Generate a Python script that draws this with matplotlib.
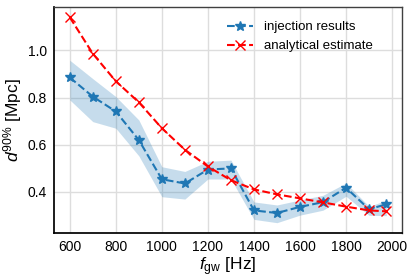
import matplotlib
matplotlib.use("Agg")
import matplotlib.pyplot as plt

freqs = [600, 700, 800, 900, 1000, 1100, 1200, 1300, 1400, 1500, 1600, 1700, 1800, 1900, 1975]
injection = [0.885, 0.804, 0.741, 0.62, 0.454, 0.436, 0.495, 0.50, 0.322, 0.311, 0.337, 0.357, 0.418, 0.327, 0.348]
inj_upper = [0.958, 0.88, 0.804, 0.705, 0.507, 0.487, 0.53, 0.535, 0.358, 0.345, 0.366, 0.386, 0.438, 0.339, 0.365]
inj_lower = [0.79, 0.698, 0.67, 0.553, 0.38, 0.37, 0.455, 0.455, 0.284, 0.27, 0.302, 0.323, 0.382, 0.301, 0.30]
analytical = [1.14, 0.986, 0.869, 0.78, 0.67, 0.579, 0.508, 0.45, 0.411, 0.39, 0.373, 0.356, 0.338, 0.322, 0.318]

plt.rcParams['font.family'] = ['Liberation Sans', 'DejaVu Sans']
plt.rcParams['mathtext.fontset'] = 'custom'
plt.rcParams['mathtext.rm'] = 'Liberation Sans'
plt.rcParams['mathtext.it'] = 'Liberation Sans:italic'

fig = plt.figure(figsize=(4.15, 2.8), dpi=100)
ax = fig.add_axes([0.130, 0.168, 0.839, 0.807])

ax.fill_between(freqs, inj_lower, inj_upper, color='#1f77b4', alpha=0.25, linewidth=0)
ax.plot(freqs, injection, linestyle='--', color='#1f77b4', marker='*', markersize=7,
        linewidth=1.5, label='injection results')
ax.plot(freqs, analytical, linestyle='--', color='red', marker='x', markersize=6.5,
        linewidth=1.5, label='analytical estimate')

ax.set_xticks([600, 800, 1000, 1200, 1400, 1600, 1800, 2000])
ax.set_yticks([0.4, 0.6, 0.8, 1.0])
ax.grid(True, color='#dddddd', linewidth=1)
ax.set_axisbelow(True)
ax.tick_params(length=0, labelsize=10, pad=5)

for s in ['top', 'right']:
    ax.spines[s].set_color('0.25')
    ax.spines[s].set_linewidth(1.0)
for s in ['left', 'bottom']:
    ax.spines[s].set_color('black')
    ax.spines[s].set_linewidth(1.25)

ax.set_xlabel(r'$f_{\rm gw}$ [Hz]', fontsize=12.5, labelpad=1)
ax.set_ylabel(r'$d^{90\%}$ [Mpc]', fontsize=12.5, labelpad=3)
ax.legend(loc='upper right', bbox_to_anchor=(0.95, 0.99), frameon=False, fontsize=9.5)

fig.savefig('out.png', dpi=100)
